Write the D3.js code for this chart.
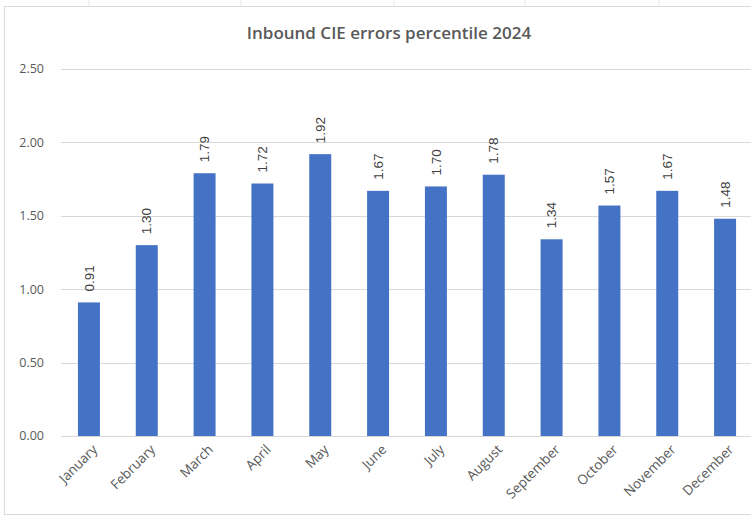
<!DOCTYPE html>
<html>
<head>
<meta charset="utf-8">
<script src="https://cdn.jsdelivr.net/npm/d3@7"></script>
<style>
body{margin:0;background:#fff;}
svg{display:block;}
</style>
</head>
<body>
<div id="chart"></div>
<script>
const months=["January","February","March","April","May","June","July","August","September","October","November","December"];
const values=[0.91,1.30,1.79,1.72,1.92,1.67,1.70,1.78,1.34,1.57,1.67,1.48];
const yTicks=[0,0.5,1,1.5,2,2.5];
const titleText="Inbound CIE errors percentile 2024";

const width=751;
const height=523;

const svg=d3.select("#chart").append("svg")
    .attr("width",width)
    .attr("height",height);

// spreadsheet cell ticks peeking above the chart
svg.append("g")
    .attr("stroke","#e6e6e6")
    .selectAll("line")
    .data([89,241,394,525,659])
    .join("line")
    .attr("x1",d=>d).attr("x2",d=>d)
    .attr("y1",0).attr("y2",6);

// chart frame
svg.append("rect")
    .attr("x",4.5).attr("y",6.5)
    .attr("width",width+10).attr("height",508)
    .attr("fill","#fff")
    .attr("stroke","#d9d9d9");

const x=d3.scaleBand()
    .domain(months)
    .range([60,754])
    .paddingInner(0.62)
    .paddingOuter(0.31);

const y=d3.scaleLinear()
    .domain([0,2.5])
    .range([436,69]);

// gridlines
svg.append("g")
    .attr("stroke","#d9d9d9")
    .selectAll("line")
    .data(yTicks)
    .join("line")
    .attr("x1",61).attr("x2",width)
    .attr("y1",d=>Math.round(y(d))+0.5)
    .attr("y2",d=>Math.round(y(d))+0.5);

// y labels
svg.append("g")
    .selectAll("text")
    .data(yTicks)
    .join("text")
    .attr("x",44)
    .attr("y",d=>y(d))
    .attr("dy","0.35em")
    .attr("text-anchor","end")
    .attr("font-family","Open Sans, sans-serif")
    .attr("font-size",12.5)
    .attr("fill","#595959")
    .text(d=>d.toFixed(2));

// bars
svg.append("g")
    .selectAll("rect")
    .data(values)
    .join("rect")
    .attr("x",(d,i)=>x(months[i]))
    .attr("y",d=>y(d))
    .attr("width",x.bandwidth())
    .attr("height",d=>y(0)-y(d))
    .attr("fill","#4472c4");

// value labels
svg.append("g")
    .selectAll("text")
    .data(values)
    .join("text")
    .attr("transform",(d,i)=>`translate(${x(months[i])+x.bandwidth()/2},${y(d)-11}) rotate(-90)`)
    .attr("dy","0.35em")
    .attr("text-anchor","start")
    .attr("font-family","Liberation Sans, Arial, sans-serif")
    .attr("font-size",13.5)
    .attr("fill","#404040")
    .text(d=>d.toFixed(2));

// month labels
svg.append("g")
    .selectAll("text")
    .data(months)
    .join("text")
    .attr("transform",d=>`translate(${x(d)+x.bandwidth()/2+6},${447}) rotate(-45)`)
    .attr("dy","0.35em")
    .attr("text-anchor","end")
    .attr("font-family","Open Sans, sans-serif")
    .attr("font-size",13.5)
    .attr("fill","#595959")
    .text(d=>d);

// title
svg.append("text")
    .attr("x",389)
    .attr("y",33)
    .attr("dy","0.35em")
    .attr("text-anchor","middle")
    .attr("font-family","Open Sans, sans-serif")
    .attr("font-weight",600)
    .attr("font-size",17)
    .attr("fill","#595959")
    .text(titleText);
</script>
</body>
</html>
